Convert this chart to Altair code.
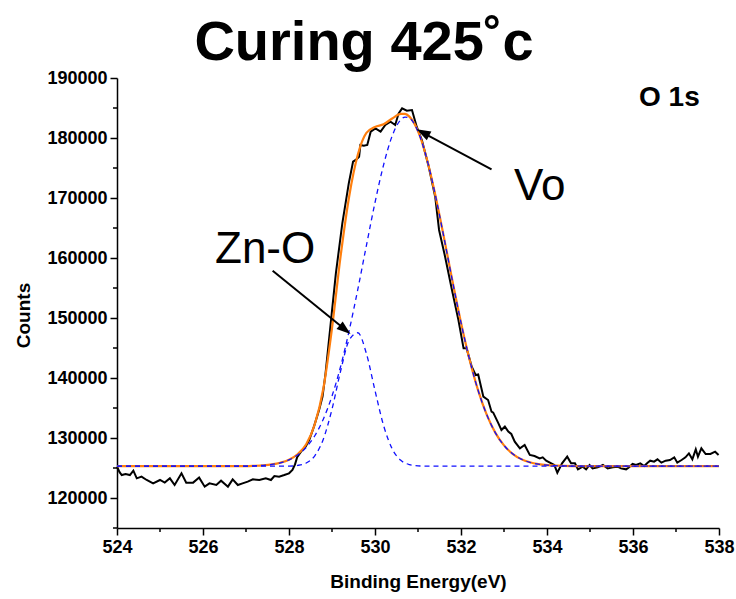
import altair as alt
import pandas as pd

# ---------------- data ----------------
black_E = [524.00, 524.06, 524.11, 524.20, 524.30, 524.38, 524.46, 524.57, 524.69, 524.84,
           525.00, 525.11, 525.23, 525.34, 525.50, 525.61, 525.77, 525.91, 526.04, 526.15,
           526.31, 526.42, 526.58, 526.69, 526.81, 526.92, 527.04, 527.16, 527.31, 527.46,
           527.58, 527.66, 527.77, 527.89, 528.00, 528.08, 528.14, 528.19, 528.28, 528.39,
           528.47, 528.58, 528.70, 528.78, 528.85, 528.97, 529.09, 529.24, 529.39, 529.49,
           529.56, 529.63, 529.66, 529.74, 529.82, 529.90, 530.01, 530.13, 530.24, 530.36,
           530.47, 530.55, 530.63, 530.74, 530.86, 530.97, 531.09, 531.25, 531.40, 531.49,
           531.63, 531.79, 531.94, 532.06, 532.13, 532.25, 532.34, 532.40, 532.52, 532.63,
           532.71, 532.75, 532.87, 532.94, 533.02, 533.10, 533.17, 533.25, 533.37, 533.48,
           533.60, 533.71, 533.83, 533.90, 533.98, 534.10, 534.17, 534.24, 534.35, 534.47,
           534.56, 534.65, 534.72, 534.83, 534.91, 534.99, 535.06, 535.18, 535.30, 535.41,
           535.53, 535.64, 535.72, 535.84, 535.91, 535.99, 536.07, 536.17, 536.26, 536.34,
           536.40, 536.49, 536.57, 536.66, 536.76, 536.86, 536.96, 537.03, 537.13, 537.22,
           537.30, 537.38, 537.46, 537.51, 537.59, 537.69, 537.80, 537.91, 537.99]
black_counts = [125200, 124300, 123830, 124000, 123830, 124560, 123280, 123560, 123000, 122440,
                123000, 122560, 123280, 122170, 124110, 122560, 122560, 123400, 121890, 122440,
                122170, 122890, 121890, 123110, 122170, 122440, 122720, 123110, 123000, 123280,
                123000, 123670, 123560, 123830, 124110, 124670, 125600, 126800, 127720, 128600,
                129670, 131890, 134670, 136900, 140780, 149110, 157440, 165780, 172440, 176060,
                176400, 176890, 178830, 178700, 178830, 181060, 181610, 181060, 182170, 182720,
                182170, 184110, 184940, 184560, 184670, 181890, 179670, 175220, 170220, 164670,
                160220, 154670, 149670, 144940, 144940, 141890, 140500, 140600, 136890, 136330,
                134390, 134220, 132440, 131330, 131890, 131060, 130670, 129390, 128280, 128830,
                127170, 127000, 126610, 126780, 126220, 125780, 125500, 124220, 125780, 126890,
                125780, 125780, 124780, 125220, 124780, 125500, 124940, 125110, 125500, 124940,
                125110, 125220, 124940, 124780, 125110, 125670, 125500, 125780, 125330, 125890,
                126220, 126060, 126440, 125890, 126220, 126330, 126780, 125890, 126330, 126780,
                127440, 126440, 128110, 126890, 128280, 127330, 127330, 127720, 127170]

zno_E = [524.0, 528.0, 528.2, 528.4, 528.6, 528.8, 529.0, 529.2, 529.4, 529.6, 529.8,
         530.0, 530.2, 530.4, 530.6, 530.8, 531.0, 531.2, 538.0]
zno_counts = [125300, 125310, 125430, 125830, 127040, 129850, 134800, 141140, 146310, 147540,
              144070, 137910, 132070, 128190, 126280, 125570, 125360, 125310, 125300]

vo_E = [524.0, 527.0, 527.2, 527.4, 527.6, 527.8, 528.0, 528.2, 528.4, 528.6, 528.8, 529.0,
        529.2, 529.4, 529.6, 529.8, 530.0, 530.2, 530.4, 530.6, 530.7, 530.8, 531.0, 531.2,
        531.4, 531.6, 531.8, 532.0, 532.2, 532.4, 532.6, 532.8, 533.0, 533.2, 533.4, 533.6,
        533.8, 534.0, 534.2, 534.4, 534.6, 538.0]
vo_counts = [125300, 125320, 125370, 125450, 125600, 125870, 126350, 127160, 128440, 130380,
             133180, 136990, 141920, 147920, 154760, 162080, 169240, 175530, 180360, 183050,
             183480, 183300, 181080, 176660, 170580, 163540, 156200, 149220, 143050, 137890,
             133860, 130860, 128770, 127370, 126480, 125950, 125640, 125470, 125380, 125340,
             125320, 125300]

fit_E = vo_E
fit_counts = [125300, 125320, 125370, 125450, 125600, 125880, 126370, 127290, 128970, 132300,
              138300, 148300, 160300, 170300, 177200, 180850, 181850, 182290, 183250, 184030,
              184010, 183560, 181140, 176670, 170580, 163540, 156200, 149220, 143050, 137890,
              133860, 130860, 128770, 127370, 126480, 125950, 125640, 125470, 125380, 125340,
              125320, 125300]

x_ticks = [524, 526, 528, 530, 532, 534, 536, 538]
x_minor = [525, 527, 529, 531, 533, 535, 537]
y_ticks = [120000, 130000, 140000, 150000, 160000, 170000, 180000, 190000]
y_minor = [115000, 125000, 135000, 145000, 155000, 165000, 175000, 185000]

arrow_labels = ["Vo", "Zn-O"]
arrow_tail_E = [532.71, 527.62]
arrow_tail_counts = [174780, 157880]
arrow_end_E = [531.13, 529.29]
arrow_end_counts = [180820, 148170]
arrow_tip_E = [530.97, 529.43]
arrow_tip_counts = [181450, 147330]
arrow_angle = [298, 129]

title_text = "Curing 425˚c"
FONT = "Liberation Sans"

# ---------------- chart ----------------
xs = alt.Scale(domain=[524, 538], nice=False, zero=False)
ys = alt.Scale(domain=[115000, 190000], nice=False, zero=False)

x_axis = alt.Axis(values=x_ticks, format="d", title="Binding Energy(eV)", grid=False,
                  tickSize=7, tickWidth=1.5, tickColor="black", domainColor="black",
                  domainWidth=1.5, labelFont=FONT, labelFontSize=18, labelFontWeight="bold",
                  labelColor="black", labelPadding=3, labelFlush=False, labelOverlap=False,
                  titleFont=FONT, titleFontSize=19,
                  titleFontWeight="bold", titleColor="black", titleY=59,
                  titleBaseline="alphabetic")
y_axis = alt.Axis(values=y_ticks, format="d", title="Counts", grid=False,
                  tickSize=7, tickWidth=1.5, tickColor="black", domainColor="black",
                  domainWidth=1.5, labelFont=FONT, labelFontSize=18, labelFontWeight="bold",
                  labelColor="black", labelPadding=3, labelFlush=False, labelOverlap=False,
                  titleFont=FONT, titleFontSize=19,
                  titleFontWeight="bold", titleColor="black", titleX=-88, titleY=237,
                  titleBaseline="alphabetic", titleAngle=-90)

black_df = pd.DataFrame({"E": black_E, "Counts": black_counts})
zno_df = pd.DataFrame({"E": zno_E, "Counts": zno_counts})
vo_df = pd.DataFrame({"E": vo_E, "Counts": vo_counts})
fit_df = pd.DataFrame({"E": fit_E, "Counts": fit_counts})

black = alt.Chart(black_df).mark_line(color="black", strokeWidth=2).encode(
    x=alt.X("E:Q", scale=xs, axis=x_axis),
    y=alt.Y("Counts:Q", scale=ys, axis=y_axis),
)
fit = alt.Chart(fit_df).mark_line(color="#FF7F0E", strokeWidth=2.2, interpolate="monotone").encode(
    x=alt.X("E:Q", scale=xs), y=alt.Y("Counts:Q", scale=ys))
zno = alt.Chart(zno_df).mark_line(color="#1010FF", strokeWidth=1.3, strokeDash=[5, 4],
                                  interpolate="monotone").encode(
    x=alt.X("E:Q", scale=xs), y=alt.Y("Counts:Q", scale=ys))
vo = alt.Chart(vo_df).mark_line(color="#1010FF", strokeWidth=1.3, strokeDash=[5, 4],
                                interpolate="monotone").encode(
    x=alt.X("E:Q", scale=xs), y=alt.Y("Counts:Q", scale=ys))

minor_x = alt.Chart(pd.DataFrame({"v": x_minor})).mark_rule(color="black", strokeWidth=1.5).encode(
    x=alt.X("v:Q", scale=xs), y=alt.value(450), y2=alt.value(454))
minor_y = alt.Chart(pd.DataFrame({"v": y_minor})).mark_rule(color="black", strokeWidth=1.5).encode(
    y=alt.Y("v:Q", scale=ys), x=alt.value(0), x2=alt.value(-4))

arrow_df = pd.DataFrame({"label": arrow_labels, "E0": arrow_tail_E, "C0": arrow_tail_counts,
                         "E1": arrow_end_E, "C1": arrow_end_counts,
                         "Et": arrow_tip_E, "Ct": arrow_tip_counts, "ang": arrow_angle})
arrow_lines = alt.Chart(arrow_df).mark_rule(color="black", strokeWidth=2).encode(
    x=alt.X("E0:Q", scale=xs), y=alt.Y("C0:Q", scale=ys), x2="E1:Q", y2="C1:Q")
arrow_heads = alt.Chart(arrow_df).mark_point(
    shape="M0,0L-0.7,2L0.7,2Z", filled=True, color="black", opacity=1, size=196,
    strokeWidth=0).encode(
    x=alt.X("Et:Q", scale=xs), y=alt.Y("Ct:Q", scale=ys),
    angle=alt.Angle("ang:Q", scale=None))

def label(txt, x, y, size, weight="normal", align="left"):
    return alt.Chart(pd.DataFrame({"t": [txt]})).mark_text(
        font=FONT, fontSize=size, fontWeight=weight, color="black", align=align,
        baseline="alphabetic").encode(text="t:N", x=alt.value(x), y=alt.value(y))

title = label(title_text, 247, -18, 56, "bold", "center")
o1s = label("O 1s", 522, 28, 28, "bold")
vo_lab = label("Vo", 397, 122, 44)
zno_lab = label("Zn-O", 98, 185, 44)

chart = alt.layer(black, fit, zno, vo, minor_x, minor_y, arrow_lines, arrow_heads,
                  title, o1s, vo_lab, zno_lab).properties(
    width=602, height=450,
    padding={"left": 117, "top": 78, "right": 17, "bottom": 71},
    autosize=alt.AutoSizeParams(type="none"),
    background="white",
).configure_view(stroke=None)

chart.save("out.html", embed_options={"renderer": "svg", "actions": False})
